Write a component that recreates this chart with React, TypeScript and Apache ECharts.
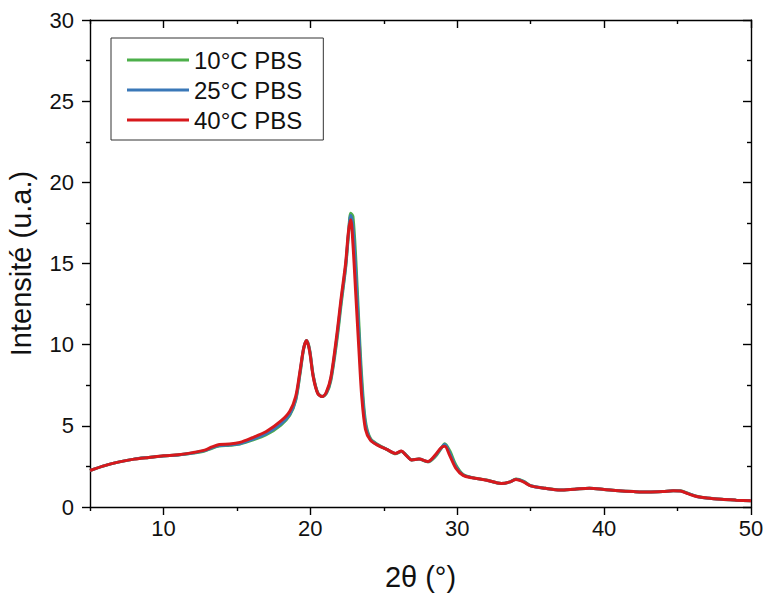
import React, { useEffect, useRef } from "react";
import * as echarts from "echarts";

const seriesNames = ["10°C PBS", "25°C PBS", "40°C PBS"];
const seriesColors = ["#4daf4a", "#3a78b8", "#d7191c"];

const twoTheta = [
  5, 6, 7, 8, 9, 10, 11, 12, 12.8, 13.3, 13.8, 14.5, 15.2, 16, 17, 18, 18.6, 19.0, 19.3, 19.55,
  19.75, 19.95, 20.2, 20.5, 20.8, 21.1, 21.4, 21.8, 22.1, 22.4, 22.6, 22.75, 22.9, 23.1, 23.3, 23.5,
  23.75, 24.1, 24.6, 25.2, 25.8, 26.2, 26.5, 26.9, 27.4, 28.0, 28.5, 28.9, 29.15, 29.5, 29.9, 30.4,
  31, 32, 33, 33.6, 34, 34.5, 35, 36, 37, 38, 39, 40, 41, 42, 43, 44, 44.7, 45.2, 45.7, 46.3, 47,
  48, 49, 50,
];

const pbs10 = [
  2.25, 2.55, 2.78, 2.95, 3.05, 3.14, 3.2, 3.32, 3.45, 3.62, 3.75, 3.8, 3.88, 4.1, 4.45, 5.05, 5.65,
  6.55, 8.2, 9.75, 10.25, 9.7, 8.1, 7.05, 6.8, 7.0, 7.8, 10.2, 12.5, 14.7, 16.8, 18.1, 17.9, 15.2,
  11.4, 8.0, 5.3, 4.2, 3.85, 3.55, 3.28, 3.42, 3.22, 2.9, 2.95, 2.78, 3.1, 3.6, 3.9, 3.45, 2.6,
  2.0, 1.82, 1.66, 1.45, 1.55, 1.72, 1.6, 1.32, 1.15, 1.05, 1.1, 1.15, 1.08, 1.0, 0.95, 0.92, 0.95,
  1.0, 1.0, 0.85, 0.66, 0.55, 0.47, 0.42, 0.38,
];

const pbs25 = [
  2.25, 2.55, 2.78, 2.95, 3.05, 3.14, 3.21, 3.33, 3.47, 3.65, 3.78, 3.82, 3.9, 4.15, 4.52, 5.12, 5.72,
  6.62, 8.3, 9.8, 10.25, 9.65, 8.05, 7.02, 6.8, 7.05, 7.9, 10.4, 12.7, 14.8, 16.9, 17.95, 17.3, 14.4,
  10.8, 7.5, 5.1, 4.15, 3.82, 3.55, 3.3, 3.44, 3.21, 2.9, 2.95, 2.79, 3.15, 3.62, 3.85, 3.3, 2.5,
  1.98, 1.81, 1.65, 1.45, 1.55, 1.71, 1.58, 1.31, 1.15, 1.05, 1.1, 1.15, 1.08, 1.0, 0.95, 0.92, 0.95,
  1.0, 0.99, 0.84, 0.65, 0.55, 0.47, 0.42, 0.38,
];

const pbs40 = [
  2.25, 2.55, 2.78, 2.95, 3.05, 3.15, 3.22, 3.35, 3.5, 3.7, 3.85, 3.88, 3.98, 4.25, 4.65, 5.3, 5.9,
  6.8, 8.4, 9.8, 10.25, 9.6, 8.0, 7.0, 6.8, 7.1, 8.0, 10.6, 12.9, 15.0, 17.0, 17.7, 16.2, 13.0,
  9.8, 6.8, 4.8, 4.1, 3.8, 3.55, 3.3, 3.45, 3.2, 2.9, 2.95, 2.8, 3.2, 3.65, 3.75, 3.15, 2.4,
  1.95, 1.8, 1.65, 1.45, 1.55, 1.7, 1.55, 1.3, 1.15, 1.05, 1.1, 1.15, 1.08, 1.0, 0.95, 0.92, 0.95,
  1.0, 0.98, 0.82, 0.65, 0.55, 0.47, 0.42, 0.38,
];

const xMajorTicks = [10, 20, 30, 40, 50];
const xMinorTicks = [5, 15, 25, 35, 45];

const FONT = "'Liberation Sans', Arial, Helvetica, sans-serif";

export default function App() {
  const ref = useRef<HTMLDivElement>(null);
  useEffect(() => {
    if (!ref.current) return;
    const chart = echarts.init(ref.current, undefined, { renderer: "svg" });
    const allSeries = [pbs10, pbs25, pbs40];
    const axisLineStyle = { color: "#000", width: 1.4 };
    const hiddenLabel = { show: false };
    const option: any = {
      animation: false,
      backgroundColor: "#fff",
      textStyle: { fontFamily: FONT },
      grid: {
        left: 90,
        right: 15,
        top: 20,
        bottom: 92,
        containLabel: false,
        outerBoundsMode: "none",
      },
      legend: {
        orient: "vertical",
        left: 111,
        top: 38,
        padding: [10, 21, 8, 16],
        icon: "rect",
        itemWidth: 62,
        itemHeight: 3,
        itemGap: 6,
        borderColor: "#333",
        borderWidth: 1,
        backgroundColor: "#fff",
        textStyle: { fontSize: 24, color: "#111", fontFamily: FONT, lineHeight: 24 },
        data: seriesNames,
      },
      xAxis: [
        {
          type: "value",
          position: "bottom",
          min: 5,
          max: 50,
          name: "2θ (°)",
          nameLocation: "middle",
          nameGap: 55,
          nameTextStyle: { fontSize: 29, color: "#111", fontFamily: FONT },
          axisLine: { show: true, onZero: false, lineStyle: axisLineStyle },
          axisTick: { show: true, length: 8, customValues: xMajorTicks, lineStyle: axisLineStyle },
          axisLabel: { show: true, customValues: xMajorTicks, fontSize: 22, color: "#111", margin: 10, fontFamily: FONT },
          splitLine: { show: false },
        },
        {
          type: "value",
          position: "bottom",
          min: 5,
          max: 50,
          axisLine: { show: false, onZero: false },
          axisTick: { show: true, length: 4, customValues: xMinorTicks, lineStyle: axisLineStyle },
          axisLabel: hiddenLabel,
          splitLine: { show: false },
        },
        {
          type: "value",
          position: "top",
          min: 5,
          max: 50,
          axisLine: { show: true, onZero: false, lineStyle: axisLineStyle },
          axisTick: { show: true, inside: true, length: 8, customValues: xMajorTicks, lineStyle: axisLineStyle },
          axisLabel: hiddenLabel,
          splitLine: { show: false },
        },
        {
          type: "value",
          position: "top",
          min: 5,
          max: 50,
          axisLine: { show: false, onZero: false },
          axisTick: { show: true, inside: true, length: 4, customValues: xMinorTicks, lineStyle: axisLineStyle },
          axisLabel: hiddenLabel,
          splitLine: { show: false },
        },
      ],
      yAxis: [
        {
          type: "value",
          position: "left",
          min: 0,
          max: 30,
          interval: 5,
          name: "Intensité (u.a.)",
          nameLocation: "middle",
          nameGap: 55,
          nameTextStyle: { fontSize: 29, color: "#111", fontFamily: FONT },
          axisLine: { show: true, onZero: false, lineStyle: axisLineStyle },
          axisTick: { show: true, length: 8, lineStyle: axisLineStyle },
          minorTick: { show: true, splitNumber: 2, length: 4, lineStyle: axisLineStyle },
          axisLabel: { fontSize: 22, color: "#111", margin: 16, fontFamily: FONT },
          splitLine: { show: false },
          minorSplitLine: { show: false },
        },
        {
          type: "value",
          position: "right",
          min: 0,
          max: 30,
          interval: 5,
          axisLine: { show: true, onZero: false, lineStyle: axisLineStyle },
          axisTick: { show: true, inside: true, length: 8, lineStyle: axisLineStyle },
          minorTick: { show: true, splitNumber: 2, length: 4, lineStyle: axisLineStyle },
          axisLabel: hiddenLabel,
          splitLine: { show: false },
          minorSplitLine: { show: false },
        },
      ],
      series: seriesNames.map((name, i) => ({
        name,
        type: "line",
        xAxisIndex: 0,
        yAxisIndex: 0,
        symbol: "none",
        smooth: 0.3,
        clip: true,
        color: seriesColors[i],
        lineStyle: { width: 3, color: seriesColors[i] },
        data: twoTheta.map((x, j) => [x, allSeries[i][j]]),
        z: 2 + i,
      })),
    };
    chart.setOption(option);
    return () => chart.dispose();
  }, []);
  return (
    <div
      ref={ref}
      style={{ position: "absolute", left: 0, top: 0, width: 766, height: 599, background: "#fff" }}
    />
  );
}
